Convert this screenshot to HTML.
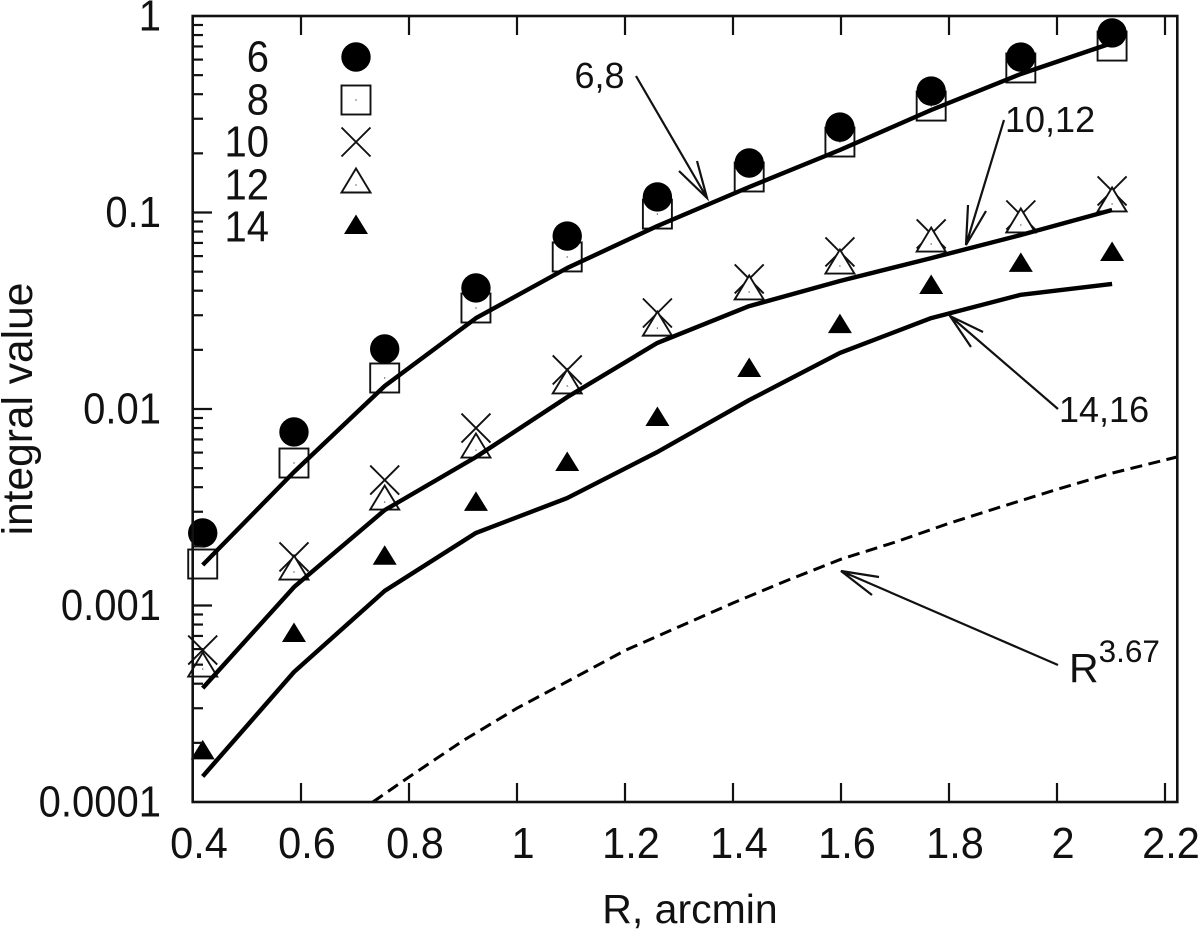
<!DOCTYPE html>
<html lang="en">
<head>
<meta charset="utf-8">
<title>Integral value vs R</title>
<style>
html,body{margin:0;padding:0;background:#fff;width:1200px;height:930px;overflow:hidden}
svg{display:block}
text{font-family:"Liberation Sans",Arial,sans-serif;fill:#111}
</style>
</head>
<body>
<svg id="chart" xmlns="http://www.w3.org/2000/svg" width="1200" height="930" viewBox="0 0 1200 930">
<g id="marks"></g>
<g id="axes"></g>
<g id="legend"></g>
<g stroke-width="2.2">
<text x="574.5" y="88" font-size="36">6,8</text>
<text x="1005" y="132" font-size="36">10,12</text>
<text x="1059" y="422" font-size="36">14,16</text>
<text x="1069" y="682" font-size="41">R<tspan font-size="31.5" dy="-20">3.67</tspan></text>
<g fill="none" stroke="#111">
<path d="M636 76L707 198M697 161L707 198L679 171"/>
</g>
<g fill="none" stroke="#111">
<path d="M1004 120L966 245M968 205L966 245L986 211"/>
</g>
<g fill="none" stroke="#111">
<path d="M1058 409L950 316M983 332L950 316L971 347"/>
</g>
<g fill="none" stroke="#111">
<path d="M1058 665L841 571M879 577L841 571L872 595"/>
</g>
</g>
</svg>
<script>
var xTickValues = [0.4, 0.6, 0.8, 1, 1.2, 1.4, 1.6, 1.8, 2, 2.2];
var xTickLabels = ['0.4', '0.6', '0.8', '1', '1.2', '1.4', '1.6', '1.8', '2', '2.2'];
var yTickValues = [1, 0.1, 0.01, 0.001, 0.0001];
var yTickLabels = ['1', '0.1', '0.01', '0.001', '0.0001'];
var radii = [0.418, 0.587, 0.755, 0.924, 1.093, 1.26, 1.43, 1.598, 1.767, 1.933, 2.102];
var series6 = [0.00234, 0.00764, 0.0202, 0.0413, 0.0759, 0.12, 0.1786, 0.272, 0.415, 0.618, 0.82];
var series8 = [0.001626, 0.00531, 0.01438, 0.03266, 0.0594, 0.0982, 0.1516, 0.2284, 0.348, 0.544, 0.703];
var series10 = [0.000593, 0.001766, 0.00435, 0.008, 0.0158, 0.0308, 0.0459, 0.063, 0.0778, 0.0971, 0.1287];
var series12 = [0.000475, 0.00148, 0.00336, 0.00618, 0.0131, 0.0258, 0.0394, 0.0534, 0.0691, 0.0864, 0.1105];
var series14 = [0.000179, 0.000708, 0.00175, 0.00329, 0.00525, 0.0089, 0.0158, 0.0264, 0.0418, 0.0541, 0.0615];
var line68 = [0.001607, 0.00478, 0.0131, 0.029, 0.0522, 0.0854, 0.1349, 0.208, 0.3325, 0.507, 0.729];
var line1012 = [0.00038, 0.00124, 0.00306, 0.0057, 0.0115, 0.0217, 0.0334, 0.0448, 0.0586, 0.0768, 0.103];
var line1416 = [0.000135, 0.000459, 0.001186, 0.00234, 0.00352, 0.00604, 0.0111, 0.0193, 0.029, 0.0381, 0.0433];
var dashedRadii = [0.733, 0.8, 0.9, 1, 1.1, 1.2, 1.3, 1.4, 1.5, 1.6, 1.7, 1.8, 1.9, 2, 2.1, 2.222];
var dashedValues = [0.0001, 0.000134, 0.000205, 0.0003, 0.00042, 0.00059, 0.00078, 0.00103, 0.00134, 0.00172, 0.0021, 0.00262, 0.0032, 0.0039, 0.0047, 0.0057];
var legendLabels = ['6', '8', '10', '12', '14'];

var NS = 'http://www.w3.org/2000/svg';
function xScale(v) { return 193 + (v - 0.4) * 540; }
function yScale(v) { return 16 - Math.log10(v) * 196.5; }
function mk(parent, tag, attrs) {
  var el = document.createElementNS(NS, tag);
  for (var k in attrs) { el.setAttribute(k, attrs[k]); }
  parent.appendChild(el);
  return el;
}

function drawCircle(parent, cx, cy) {
  var el = mk(parent, 'circle', { cx: cx, cy: cy, r: 14.7, fill: '#000' });
  
  
}
function drawSquare(parent, cx, cy) {
  var el = mk(parent, 'rect', { x: cx - 14.5, y: cy - 14.5, width: 29, height: 29, fill: '#fff', stroke: '#111', 'stroke-width': 1.9 });
  
  
  var dot = mk(parent, 'rect', { x: cx - 0.6, y: cy - 0.6, width: 1.2, height: 1.2, fill: '#444' });
  
  
}
function drawCross(parent, cx, cy) {
  var p = 'M' + (cx - 14.5) + ' ' + (cy - 14.5) + 'L' + (cx + 14.5) + ' ' + (cy + 14.5) + 'M' + (cx - 14.5) + ' ' + (cy + 14.5) + 'L' + (cx + 14.5) + ' ' + (cy - 14.5);
  var el = mk(parent, 'path', { d: p, fill: 'none', stroke: '#111', 'stroke-width': 1.9 });
  
  
}
function drawTriangle(parent, cx, cy) {
  var p = 'M' + cx + ' ' + (cy - 16.5) + 'L' + (cx + 14.5) + ' ' + (cy + 7.5) + 'L' + (cx - 14.5) + ' ' + (cy + 7.5) + 'Z';
  var el = mk(parent, 'path', { d: p, fill: '#fff', stroke: '#111', 'stroke-width': 1.9 });
  
  
  var dot = mk(parent, 'rect', { x: cx - 0.6, y: cy - 0.6, width: 1.2, height: 1.2, fill: '#444' });
  
  
}
function drawFilledTriangle(parent, cx, cy) {
  var p = 'M' + cx + ' ' + (cy - 12.5) + 'L' + (cx + 12) + ' ' + (cy + 7) + 'L' + (cx - 12) + ' ' + (cy + 7) + 'Z';
  var el = mk(parent, 'path', { d: p, fill: '#000' });
  
  
}

var marks = document.getElementById('marks');
function plotSeries(name, values, draw) {
  var g = mk(marks, 'g', {});
  
  
  values.forEach(function (v, i) { draw(g, xScale(radii[i]), yScale(v)); });
}
plotSeries('series-8', series8, drawSquare);
plotSeries('series-6', series6, drawCircle);
plotSeries('series-10', series10, drawCross);
plotSeries('series-12', series12, drawTriangle);
plotSeries('series-14', series14, drawFilledTriangle);

function linePath(xs, ys) {
  return xs.map(function (x, i) { return (i ? 'L' : 'M') + xScale(x).toFixed(1) + ' ' + yScale(ys[i]).toFixed(1); }).join('');
}
var l1 = mk(marks, 'path', { d: linePath(radii, line68), fill: 'none', stroke: '#000', 'stroke-width': 4.4, 'stroke-linejoin': 'round' });


var l2 = mk(marks, 'path', { d: linePath(radii, line1012), fill: 'none', stroke: '#000', 'stroke-width': 4.4, 'stroke-linejoin': 'round' });


var l3 = mk(marks, 'path', { d: linePath(radii, line1416), fill: 'none', stroke: '#000', 'stroke-width': 4.4, 'stroke-linejoin': 'round' });


var l4 = mk(marks, 'path', { d: linePath(dashedRadii, dashedValues), fill: 'none', stroke: '#000', 'stroke-width': 3, 'stroke-dasharray': '12 6.5' });



var axes = document.getElementById('axes');
var frame = mk(axes, 'rect', { x: 192.7, y: 16, width: 984.6, height: 786, fill: 'none', stroke: '#111', 'stroke-width': 2.6 });



xTickValues.forEach(function (v, i) {
  var x = xScale(v);
  if (i > 0) {
    var b = mk(axes, 'line', { x1: x, x2: x, y1: 802, y2: 783, stroke: '#111', 'stroke-width': 2.2 });
    
    
    var t = mk(axes, 'line', { x1: x, x2: x, y1: 16, y2: 35, stroke: '#111', 'stroke-width': 2.2 });
    
    
  }
  var lab = mk(axes, 'text', { x: 0, y: 0, 'text-anchor': 'middle', 'font-size': 41.5, transform: 'translate(' + (x + 6) + ' 858) scale(1 1.06)' });
  lab.textContent = xTickLabels[i];
  
  
});

yTickValues.forEach(function (v, i) {
  var y = yScale(v);
  if (i > 0 && i < yTickValues.length - 1) {
    var maj = mk(axes, 'line', { x1: 193, x2: 212, y1: y, y2: y, stroke: '#111', 'stroke-width': 2.2 });
    
    
  }
  if (v < 1) {
    for (var m = 2; m < 10; m++) {
      var ym = yScale(v * m);
      var min = mk(axes, 'line', { x1: 193, x2: 203, y1: ym, y2: ym, stroke: '#111', 'stroke-width': 2.2 });
      
      
    }
  }
  var lab = mk(axes, 'text', { x: 0, y: 0, 'text-anchor': 'end', 'font-size': 40, transform: 'translate(161 ' + (y + 14.5) + ') scale(1 1.08)' });
  lab.textContent = yTickLabels[i];
  
  
});

var xTitle = mk(axes, 'text', { x: 690, y: 923, 'text-anchor': 'middle', 'font-size': 41 });
xTitle.textContent = 'R, arcmin';


var yTitle = mk(axes, 'text', { x: 0, y: 0, 'text-anchor': 'middle', 'font-size': 42.5, transform: 'translate(32 409) rotate(-90)' });
yTitle.textContent = 'integral value';



var legend = document.getElementById('legend');
var legendDraw = [drawCircle, drawSquare, drawCross, drawTriangle, drawFilledTriangle];
var legendY = [57, 100, 142, 185, 227];
legendLabels.forEach(function (s, i) {
  var t = mk(legend, 'text', { x: 0, y: 0, 'text-anchor': 'end', 'font-size': 40, transform: 'translate(269 ' + (legendY[i] + 14.5) + ') scale(1 1.1)' });
  t.textContent = s;
  
  
  legendDraw[i](legend, 356, legendY[i]);
});
</script>
</body>
</html>
